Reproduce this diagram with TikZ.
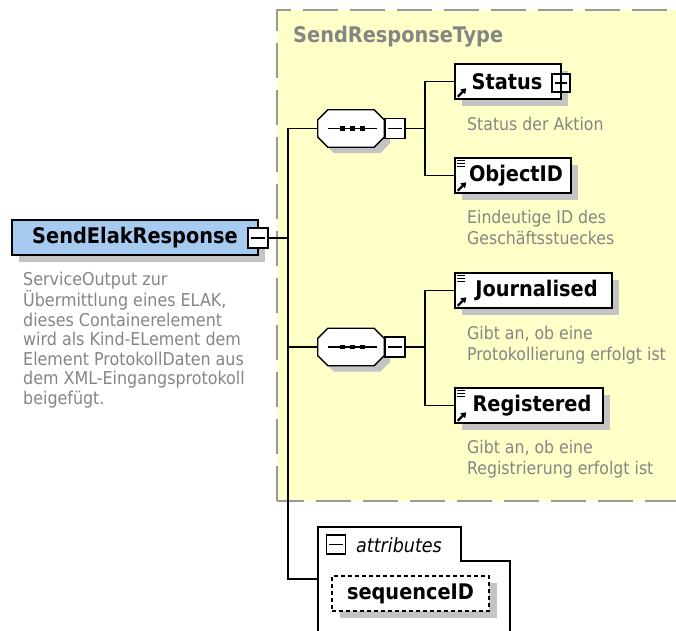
\documentclass[tikz,border=0pt]{standalone}
\usepackage{fontspec}
\setmainfont{DejaVu Sans Condensed}
\usetikzlibrary{shadows,arrows.meta}
\definecolor{ybg}{HTML}{FFFFC8}
\definecolor{elblue}{HTML}{A6CAF0}
\definecolor{descgray}{HTML}{858585}
\definecolor{shgray}{HTML}{C4C4C4}
\definecolor{dashgray}{HTML}{999999}
\newcommand\nmf{\fontsize{21.5}{23}\bfseries\selectfont}
\newcommand\dscf{\fontsize{17.7}{19.5}\selectfont}
\newcommand\dscg{\fontsize{17.5}{21.3}\selectfont}
\newcommand\itf{\fontsize{19.5}{21}\itshape\selectfont}
\tikzset{
  shad/.style={general shadow={fill=shgray, shadow xshift=7pt, shadow yshift=-7pt}},
  mainbox/.style={draw, line width=2pt, fill=elblue, minimum width=246pt, minimum height=35pt, inner sep=0pt, font=\nmf, shad},
  elbox/.style={draw, line width=1.5pt, fill=white, minimum height=35pt, inner sep=0pt, font=\nmf, shad},
  pmbox/.style={draw, line width=1.3pt, fill=white, minimum size=20pt, inner sep=0pt},
  seqbox/.style={minimum width=66pt, minimum height=37pt, inner sep=0pt},
  desc/.style={anchor=north west, inner sep=0pt, align=left, text=descgray},
  conn/.style={line width=1.5pt},
  pmsign/.style={line width=1.3pt},
}
\newcommand\elicons[2]{%
  \draw[line width=2.2pt, -{Triangle[length=5pt,width=6.5pt]}] ([shift={(3.5,-3)}]#1.south west) -- ++(8.5,-8.5);
  \ifnum#2=1
    \draw[line width=1.1pt] ([shift={(3,2.8)}]#1.north west) -- ++(8,0);
    \draw[line width=1.1pt] ([shift={(3,5.8)}]#1.north west) -- ++(8,0);
    \draw[line width=1.1pt] ([shift={(3,8.8)}]#1.north west) -- ++(8,0);
  \fi}
\newcommand\octpath[3]{([xshift=10pt+#2,yshift=#3]#1.north west) -- ([xshift=-10pt+#2,yshift=#3]#1.north east) -- ([xshift=#2,yshift=-10pt+#3]#1.north east) -- ([xshift=#2,yshift=10pt+#3]#1.south east) -- ([xshift=-10pt+#2,yshift=#3]#1.south east) -- ([xshift=10pt+#2,yshift=#3]#1.south west) -- ([xshift=#2,yshift=10pt+#3]#1.south west) -- ([xshift=#2,yshift=-10pt+#3]#1.north west) -- cycle}
\newcommand\seqdraw[1]{%
  \fill[shgray] \octpath{#1}{6pt}{-6pt};
  \draw[line width=1.3pt, fill=white] \octpath{#1}{0pt}{0pt};
  \draw[line width=1.3pt] ([xshift=-23pt]#1.center) -- ([xshift=26pt]#1.center);
  \foreach \dx in {-8.5,1.5,11.5}
    \fill ([shift={(\dx-2.6,-2.2)}]#1.center) rectangle ++(5.2,4.4);}
\begin{document}
\begin{tikzpicture}[x=1pt,y=-1pt]
\useasboundingbox (0,0) rectangle (676,630);
% yellow complex type area
\fill[ybg] (277,10) rectangle (680,501);
\draw[dashgray, line width=2pt, dash pattern=on 35pt off 12pt] (277,501) -- (277,10) -- (680,10);
\draw[dashgray, line width=2pt, dash pattern=on 35pt off 12pt, dash phase=8pt] (277,501) -- (680,501);
\node[anchor=west, inner sep=0pt, font=\nmf, text=descgray] (ttl) at (293,37) {SendResponseType};

% main element
\node[mainbox] (main) at (135,237.5) {SendElakResponse};
\node[pmbox] (mainm) at (258,238) {};
\draw[pmsign] ([xshift=4pt]mainm.west) -- ([xshift=-4pt]mainm.east);
\node[desc, font=\dscf] (maind) at (23,272) {ServiceOutput zur\\Übermittlung eines ELAK,\\dieses Containerelement\\wird als Kind-ELement dem\\Element ProtokollDaten aus\\dem XML-Eingangsprotokoll\\beigefügt.};

% trunk
\coordinate (tm) at (288,238);
\coordinate (t1) at (288,128.5);
\coordinate (t2) at (288,347);
\coordinate (t3) at (288,579);
\coordinate (attrl) at (318,579);

% sequence 1
\node[seqbox] (seq1) at (351,128.5) {};
\seqdraw{seq1}
\node[pmbox] (seq1m) at (395,128.5) {};
\draw[pmsign] ([xshift=4pt]seq1m.west) -- ([xshift=-4pt]seq1m.east);
\coordinate (j1) at (425,128.5);

\node[elbox, minimum width=106pt] (status) at (508,81.5) {\hspace*{4pt}Status\hspace*{6pt}};
\elicons{status}{0}
\node[pmbox, minimum size=18pt] (statusp) at (561,83) {};
\draw[pmsign] ([xshift=3.5pt]statusp.west) -- ([xshift=-3.5pt]statusp.east);
\draw[pmsign] ([yshift=3.5pt]statusp.north) -- ([yshift=-3.5pt]statusp.south);
\node[desc, font=\dscg] (statusd) at (467,117) {Status der Aktion};

\node[elbox, minimum width=116pt] (objid) at (513,175.5) {\hspace*{6pt}ObjectID};
\elicons{objid}{1}
\node[desc, font=\dscg] (objidd) at (467,210) {Eindeutige ID des\\Geschäftsstueckes};

% sequence 2
\node[seqbox] (seq2) at (351,347) {};
\seqdraw{seq2}
\node[pmbox] (seq2m) at (395,347) {};
\draw[pmsign] ([xshift=4pt]seq2m.west) -- ([xshift=-4pt]seq2m.east);
\coordinate (j2) at (425,347);

\node[elbox, minimum width=157pt] (journ) at (533.5,290.5) {\hspace*{6pt}Journalised};
\elicons{journ}{1}
\node[desc, font=\dscg] (journd) at (467,326) {Gibt an, ob eine\\Protokollierung erfolgt ist};

\node[elbox, minimum width=148pt] (regis) at (529,405.5) {\hspace*{6pt}Registered};
\elicons{regis}{1}
\node[desc, font=\dscg] (regisd) at (467,440) {Gibt an, ob eine\\Registrierung erfolgt ist};

% attributes
\draw[line width=1.5pt, fill=white] (318,634) -- (318,527) -- (461,527) -- (461,561) -- (510,561) -- (510,634);
\node[pmbox, minimum size=19pt] (attrm) at (336,544.5) {};
\draw[pmsign] ([xshift=3.5pt]attrm.west) -- ([xshift=-3.5pt]attrm.east);
\node[anchor=west, inner sep=0pt, font=\itf] (attrt) at (356,545) {attributes};
\node[draw, dash pattern=on 4pt off 3pt, line width=1.5pt, fill=white, minimum width=157pt, minimum height=35pt, inner sep=0pt, font=\nmf, general shadow={fill=shgray, shadow xshift=8pt, shadow yshift=-7pt}] (seqid) at (410.5,593.5) {sequenceID};

% connectors
\draw[conn] (mainm.east) -- (tm);
\draw[conn] (seq1.west) -- (t1) -- (t3) -- (attrl);
\draw[conn] (t2) -- (seq2.west);
\draw[conn] (seq1m.east) -- (j1);
\draw[conn] (status.west) -| (j1) |- (objid.west);
\draw[conn] (seq2m.east) -- (j2);
\draw[conn] (journ.west) -| (j2) |- (regis.west);
\end{tikzpicture}
\end{document}
